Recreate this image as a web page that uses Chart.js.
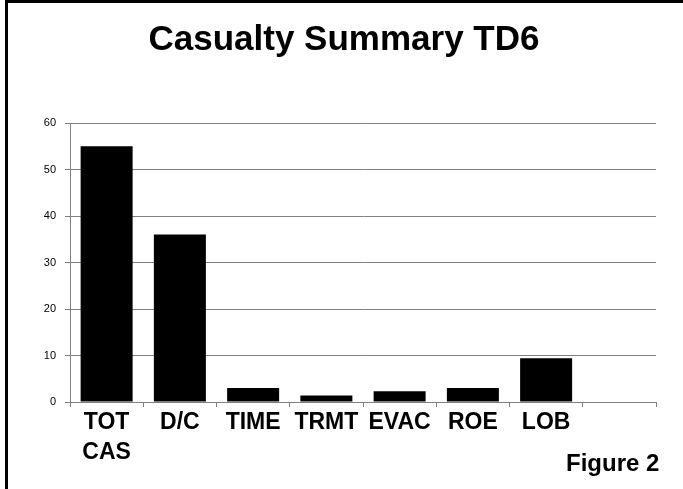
<!DOCTYPE html>
<html>
<head>
<meta charset="utf-8">
<script src="https://cdn.jsdelivr.net/npm/chart.js@4"></script>
<style>
  html, body { margin: 0; padding: 0; background: #fff; }
  #wrap { position: relative; width: 683px; height: 489px; overflow: hidden; }
  #wrap canvas { position: absolute; left: 0; top: 0; }
  .frame-top { position: absolute; left: 5px; top: 0; width: 678px; height: 3px; background: #000; }
  .frame-left { position: absolute; left: 5px; top: 0; width: 3px; height: 489px; background: #000; }
  .title { position: absolute; left: 0; top: 18px; width: 688px; text-align: center; line-height: 1; font: bold 35px "Liberation Sans", Arial, sans-serif; color: #000; }
  .fig { position: absolute; left: 566px; top: 449px; font: bold 24px "Liberation Sans", Arial, sans-serif; color: #000; }
</style>
</head>
<body>
<div id="wrap">
  <canvas id="casChart" width="683" height="489"></canvas>
  <div class="frame-top"></div>
  <div class="frame-left"></div>
  <div class="title">Casualty Summary TD6</div>
  <div class="fig">Figure 2</div>
</div>
<script>
const categories = [['TOT', 'CAS'], 'D/C', 'TIME', 'TRMT', 'EVAC', 'ROE', 'LOB', ''];
const casualties = [55, 36, 3, 1.4, 2.3, 3, 9.4, null];
const yTicks = [0, 10, 20, 30, 40, 50, 60];

const GREY = '#808080';
const FONT = "'Liberation Sans', Arial, sans-serif";

new Chart(document.getElementById('casChart'), {
    type: 'bar',
    data: {
        labels: categories,
        datasets: [{
            label: 'Casualties',
            data: casualties,
            backgroundColor: '#000',
            borderWidth: 0,
            categoryPercentage: 1,
            barPercentage: 0.71
        }]
    },
    options: {
        responsive: false,
        animation: false,
        layout: { padding: { left: 0, right: 27, top: 123, bottom: 0 } },
        plugins: {
            legend: { display: false },
            tooltip: { enabled: false },
            title: { display: false }
        },
        scales: {
            x: {
                grid: { display: true, drawOnChartArea: false, drawTicks: true, tickLength: 5, color: GREY, offset: true },
                border: { color: GREY, width: 1 },
                ticks: {
                    color: '#000',
                    padding: 0,
                    maxRotation: 0,
                    autoSkip: false,
                    font: { family: FONT, size: 23, weight: 'bold', lineHeight: 1.33 }
                },
                afterFit(scale) { scale.height = 87; }
            },
            y: {
                min: 0,
                max: 60,
                afterBuildTicks(scale) { scale.ticks = yTicks.map(v => ({ value: v })); },
                grid: { color: GREY, tickLength: 5, lineWidth: 1 },
                border: { color: GREY, width: 1 },
                ticks: {
                    color: '#000',
                    padding: 9,
                    font: { family: FONT, size: 11 }
                },
                afterFit(scale) { scale.width = 70; }
            }
        }
    }
});
</script>
</body>
</html>
